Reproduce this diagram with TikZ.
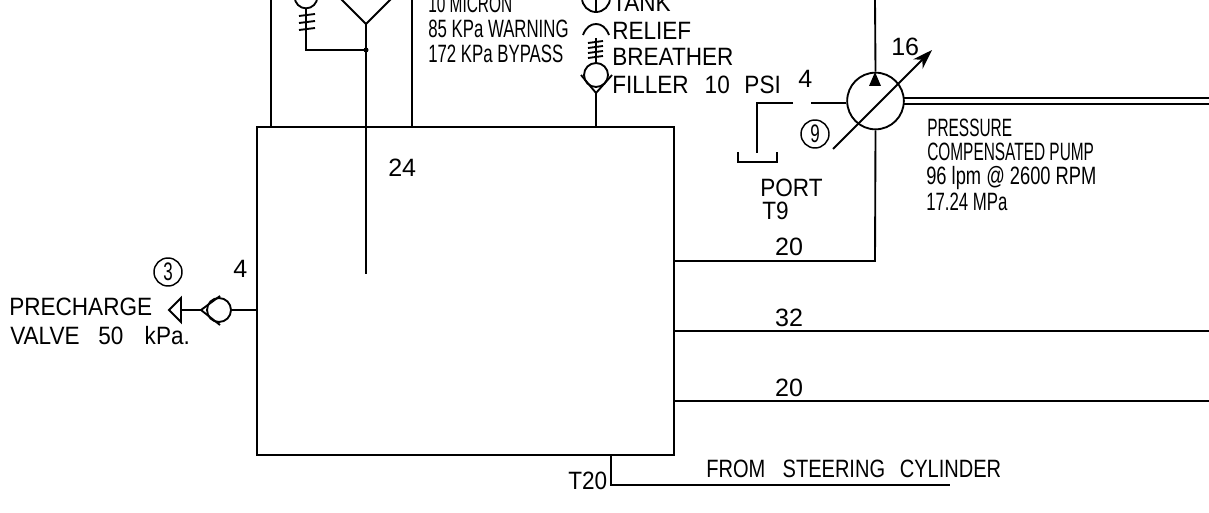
\documentclass[tikz,border=0pt]{standalone}
\usepackage{fontspec}
\setmainfont{Liberation Sans}
\newfontfamily\cadwide[FakeStretch=0.9]{Liberation Sans}
\newfontfamily\cadmid[FakeStretch=0.8]{Liberation Sans}
\newfontfamily\cadslim[FakeStretch=0.67]{Liberation Sans}
\newfontfamily\cadfig[FakeStretch=0.73]{Liberation Sans}
\newfontfamily\cadtight[FakeStretch=0.615]{Liberation Sans}
\usetikzlibrary{positioning, arrows.meta, calc}
\tikzset{
	pipe/.style={line width=1.4pt},
	lbl/.style={anchor=base west, inner sep=0pt, font=\fontsize{18.8}{20}\cadwide},
	num/.style={anchor=base west, inner sep=0pt, font=\fontsize{18.8}{20}\selectfont},
	slim/.style={anchor=base west, inner sep=0pt, font=\fontsize{18.8}{20}\cadslim},
	tight/.style={anchor=base west, inner sep=0pt, font=\fontsize{18.8}{20}\cadtight},
	balloon/.style={circle, draw, line width=1.1pt, inner sep=0pt, minimum size=21pt, font=\fontsize{19}{20}\cadslim},
	ring/.style={circle, draw, pipe, inner sep=0pt, minimum size=#1},
}
\begin{document}
\begin{tikzpicture}[x=0.75pt, y=-0.75pt]
	\clip (0,0) rectangle (1209,513);
	% tank
	\node[draw, pipe, inner sep=0pt, minimum width=312.75pt, minimum height=246pt](tank) at (465.5,291){};
	\foreach \x/\name in {271/retA, 366/filterY, 412/retB, 596/breatherfoot}
	{
		\coordinate (\name) at (\x,127);
	}
	\coordinate (retAtop) at (271,0);
	\coordinate (retBtop) at (412,0);
	\draw[pipe] (retAtop) -- (retA);
	\draw[pipe] (retBtop) -- (retB);
	% filter with gauge
	\coordinate (yapex) at (366,24);
	\coordinate (yend) at (366,274);
	\coordinate (ydot) at (366,50);
	\draw[pipe] (340,-2) -- (yapex) -- (392,-2);
	\draw[pipe] (yapex) -- (yend);
	\fill (ydot) circle (2.5);
	\node[ring=17pt](gauge) at (306,-3){};
	\coordinate (gaugefoot) at (306,50);
	\draw[pipe] (gauge.south) -- (gaugefoot) -- (ydot);
	\foreach \y in {16,23,30}
	{
		\draw[pipe] (299,\y) -- ++(16,-2);
	}
	% breather
	\node[ring=18pt](filler) at (596,75){};
	\coordinate (vapex) at (596,93);
	\draw[pipe] (vapex) -- (breatherfoot);
	\draw[pipe] (581,75) -- (vapex) -- (612,75);
	\coordinate (springtop) at (596,38);
	\draw[pipe] (springtop) -- (filler.north);
	\foreach \y in {43,48,53,58}
	{
		\draw[pipe] (588,\y) -- ++(15,-2);
	}
	\draw[pipe] (583,35) .. controls (586,27) and (591,24) .. (596,24) .. controls (601,24) and (606,27) .. (609,35);
	\node[ring=21pt](tanksym) at (596,-2){};
	\draw[pipe] (596,0) -- (tanksym.south);
	% pump
	\node[ring=42.5pt](pump) at (875.5,101){};
	\coordinate (casetop) at (875,0);
	\coordinate (suctioncorner) at (875,261);
	\coordinate (suctionfoot) at (tank.east |- suctioncorner);
	\draw[pipe] (casetop) -- (pump.north);
	\draw[pipe] (pump.south) -- (suctioncorner) -- (suctionfoot);
	\fill (875,72) -- (881,86) -- (869,86) -- cycle;
	\coordinate (varA) at (833,149);
	\coordinate (varB) at (932,50);
	\draw[pipe, -{Stealth[length=15pt, width=10pt]}] (varA) -- (varB);
	\foreach \y in {98,104}
	{
		\coordinate (pressure) at (1209,\y);
		\draw[pipe] (pump.east |- pressure) ++(-1,0) -- (pressure);
	}
	% case drain to port
	\coordinate (drainA) at (811,103);
	\coordinate (drainB) at (793,103);
	\coordinate (drainC) at (757,103);
	\coordinate (drainD) at (757,153);
	\draw[pipe] (pump.west |- drainA) -- (drainA);
	\draw[pipe] (drainB) -- (drainC) -- (drainD);
	\draw[pipe] (738,152) -- (738,162) -- (777,162) -- (777,152);
	\node[balloon](nine) at (815,134){9};
	% pressure and return lines
	\foreach \y/\lab/\name in {331/32/lineB, 401/20/lineC}
	{
		\coordinate (\name) at (1209,\y);
		\draw[pipe] (tank.east |- \name) -- (\name);
		\node[num, anchor=base](\name lab) at (789,\y-5){\lab};
	}
	\node[num, anchor=base](lineAlab) at (789,256){20};
	% precharge valve
	\node[ring=18pt](pre) at (219,310){};
	\coordinate (pretank) at (tank.west |- pre);
	\coordinate (pretip) at (201,310);
	\coordinate (preback) at (181,310);
	\draw[pipe] (pre.east) -- (pretank);
	\draw[pipe] (220,296) -- (pretip) -- (220,325);
	\draw[pipe] (pretip) -- (preback);
	\draw[pipe] (181,298) -- (169,310) -- (181,322) -- cycle;
	\node[balloon](three) at (168,272){3};
	% steering return
	\coordinate (retsteerA) at (611,455);
	\coordinate (retsteerB) at (611,485);
	\coordinate (retsteerC) at (950,485);
	\draw[pipe] (retsteerA) -- (retsteerB) -- (retsteerC);
	% texts
	\node[tight](micron) at (428,13){10 MICRON};
	\node[slim](warning) at (428,38){85 KPa WARNING};
	\node[slim](bypass) at (428,63){172 KPa BYPASS};
	\node[lbl](tanktxt) at (612,12){TANK};
	\node[lbl](relief) at (612,40){RELIEF};
	\node[lbl](breather) at (612,66){BREATHER};
	\node[lbl](fillertxt) at (612,94){FILLER\hspace{12pt}10\hspace{11pt}PSI};
	\node[num](lineX) at (388,177){24};
	\node[num](four) at (233,277){4};
	\node[num](drainsize) at (798,88){4};
	\node[num](sixteen) at (891,56){16};
	\node[lbl](port) at (760,197){PORT};
	\node[lbl](tnine) at (762,220){T9};
	\node[tight](pa) at (927,137){PRESSURE};
	\node[tight](pb) at (927,161){COMPENSATED PUMP};
	\node[slim, font=\fontsize{18.8}{20}\cadfig](pc) at (926,185){96 lpm @ 2600 RPM};
	\node[slim](pd) at (926,211){17.24 MPa};
	\node[lbl](prechg) at (9,315){PRECHARGE};
	\node[lbl](valve) at (10,344){VALVE\hspace{14pt}50\hspace{16pt}kPa.};
	\node[lbl](tt) at (568,489){T20};
	\node[lbl, font=\fontsize{18.8}{20}\cadmid](steer) at (706,477){FROM\hspace{13pt}STEERING\hspace{11pt}CYLINDER};
\end{tikzpicture}
\end{document}
